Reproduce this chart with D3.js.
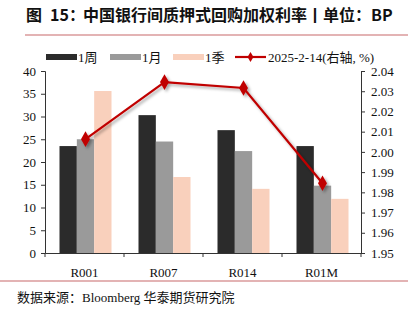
<!DOCTYPE html>
<html><head><meta charset="utf-8">
<script src="https://cdn.jsdelivr.net/npm/d3@7"></script>
<style>body{margin:0;background:#fff}svg{display:block}</style>
</head><body>
<script>
const categories = ["R001","R007","R014","R01M"];
const seriesNames = ["1周","1月","1季"];
const week = [23.5, 30.3, 27.0, 23.5];
const month = [25.0, 24.5, 22.4, 14.8];
const quarter = [35.6, 16.7, 14.1, 11.9];
const lineName = "2025-2-14(右轴, %)";
const lineVals = [2.0063, 2.0345, 2.0316, 1.9845];
const leftTicks = [0,5,10,15,20,25,30,35,40];
const rightTicks = [1.95,1.96,1.97,1.98,1.99,2.00,2.01,2.02,2.03,2.04];
const colors = ["#2b2b2b","#9a9a9a","#f9d0bc"];
const lineColor = "#c00000";

const W=416,H=321;
const svg=d3.select("body").append("svg").attr("width",W).attr("height",H);
const serif="'Liberation Serif','Times New Roman','Noto Sans CJK SC',serif";
const defs=svg.append("defs");
const f=defs.append("filter").attr("id","sh").attr("x","-20%").attr("y","-20%").attr("width","140%").attr("height","140%");
f.append("feDropShadow").attr("dx",2).attr("dy",2).attr("stdDeviation",1.5).attr("flood-color","#000").attr("flood-opacity",0.35);

// title
const title=svg.append("text").attr("y",21).attr("font-family","'Noto Sans CJK SC',sans-serif").attr("font-weight","bold").attr("font-size",16).attr("fill","#111");
title.append("tspan").attr("x",26).text("图");
title.append("tspan").attr("x",50).text("15：");
title.append("tspan").attr("x",83).text("中国银行间质押式回购加权利率丨单位：BP");
svg.append("line").attr("x1",25).attr("x2",408).attr("y1",35).attr("y2",35).attr("stroke","#c8686a").attr("stroke-width",1.2);
svg.append("line").attr("x1",0).attr("x2",408).attr("y1",281).attr("y2",281).attr("stroke","#c8686a").attr("stroke-width",1.2);
svg.append("text").attr("x",17).attr("y",302).attr("font-family",serif).attr("font-size",13).attr("fill","#111").text("数据来源：Bloomberg 华泰期货研究院");

const x0=d3.scaleBand().domain(categories).range([45,361]).paddingInner(0).paddingOuter(0);
const x1=d3.scaleBand().domain(seriesNames).range([0,52]);
const y=d3.scaleLinear().domain([0,40]).range([253,71]);
const yr=d3.scaleLinear().domain([1.95,2.04]).range([253,71]);

const data=[week,month,quarter];
const g=svg.append("g");
seriesNames.forEach((s,si)=>{
  g.selectAll(null).data(categories).enter().append("rect")
   .attr("x",(c)=>x0(c)+(x0.bandwidth()-52)/2+1+x1(s))
   .attr("width",x1.bandwidth())
   .attr("y",(c,i)=>y(data[si][i]))
   .attr("height",(c,i)=>y(0)-y(data[si][i]))
   .attr("fill",colors[si]);
});

// axes
const axL=svg.append("g").attr("transform","translate(45,0)").call(d3.axisLeft(y).tickValues(leftTicks).tickSize(4).tickPadding(5));
const axR=svg.append("g").attr("transform","translate(361,0)").call(d3.axisRight(yr).tickValues(rightTicks).tickFormat(d3.format(".2f")).tickSize(4).tickPadding(6));
const axB=svg.append("g").attr("transform","translate(0,253)").call(d3.axisBottom(x0).tickSize(0).tickPadding(15));
axB.selectAll(".tick line").remove();
[45,124,203,282,361].forEach(v=>axB.append("line").attr("x1",v).attr("x2",v).attr("y1",0).attr("y2",4).attr("stroke","#333"));
[axL,axR,axB].forEach(a=>{a.selectAll("text").attr("font-family",serif).attr("font-size",13).attr("fill","#111");a.selectAll("path,line").attr("stroke","#333");});

// line
const lg=svg.append("g").attr("filter","url(#sh)");
const lineGen=d3.line().x((d,i)=>x0(categories[i])+x0.bandwidth()/2+1).y(d=>yr(d));
lg.append("path").datum(lineVals).attr("d",lineGen).attr("fill","none").attr("stroke",lineColor).attr("stroke-width",2.2);
lg.selectAll(null).data(lineVals).enter().append("path")
  .attr("d",d3.symbol(d3.symbolDiamond,70))
  .attr("transform",(d,i)=>`translate(${x0(categories[i])+x0.bandwidth()/2+1},${yr(d)})`)
  .attr("fill",lineColor);

// legend
const leg=svg.append("g").attr("font-family",serif).attr("font-size",13).attr("fill","#111");
const items=[{x:46,t:"1周",c:colors[0]},{x:110,t:"1月",c:colors[1]},{x:173,t:"1季",c:colors[2]}];
items.forEach(it=>{
  leg.append("rect").attr("x",it.x).attr("y",54).attr("width",31).attr("height",6).attr("fill",it.c);
  leg.append("text").attr("x",it.x+32).attr("y",62).text(it.t);
});
leg.append("line").attr("x1",235).attr("x2",266).attr("y1",57).attr("y2",57).attr("stroke",lineColor).attr("stroke-width",2.2);
leg.append("path").attr("d",d3.symbol(d3.symbolDiamond,30)).attr("transform","translate(250.5,57)").attr("fill",lineColor);
leg.append("text").attr("x",268).attr("y",62).text(lineName);
</script>
</body></html>
